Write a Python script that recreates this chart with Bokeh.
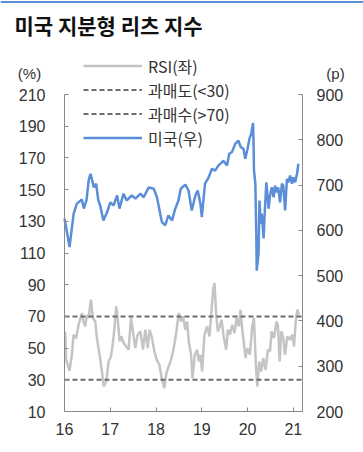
from bokeh.plotting import figure
from bokeh.models import Range1d, LinearAxis, FixedTicker, Legend, LegendItem, Label, Span
from bokeh.embed import file_html
from bokeh.resources import INLINE

# ---- data ----
title_text = "미국 지분형 리츠 지수"
left_unit = "(%)"
right_unit = "(p)"

rsi_dates = [2016.015, 2016.036, 2016.109, 2016.161, 2016.197, 2016.255, 2016.307, 2016.380, 2016.416, 2016.453,
             2016.489, 2016.526, 2016.577, 2016.620, 2016.672, 2016.708, 2016.766, 2016.818, 2016.854, 2016.912,
             2016.964, 2017.015, 2017.058, 2017.095, 2017.131, 2017.161, 2017.204, 2017.241, 2017.292, 2017.350,
             2017.401, 2017.453, 2017.496, 2017.547, 2017.599, 2017.657, 2017.715, 2017.766, 2017.818, 2017.861,
             2017.912, 2017.964, 2018.015, 2018.073, 2018.131, 2018.182, 2018.226, 2018.277, 2018.328, 2018.387,
             2018.445, 2018.496, 2018.547, 2018.591, 2018.642, 2018.679, 2018.715, 2018.766, 2018.796, 2018.847,
             2018.898, 2018.934, 2018.971, 2019.007, 2019.058, 2019.117, 2019.168, 2019.204, 2019.248, 2019.277,
             2019.314, 2019.350, 2019.394, 2019.431, 2019.482, 2019.533, 2019.569, 2019.613, 2019.664, 2019.715,
             2019.759, 2019.810, 2019.847, 2019.883, 2019.920, 2019.956, 2019.993, 2020.051, 2020.102, 2020.139,
             2020.182, 2020.212, 2020.255, 2020.299, 2020.343, 2020.394, 2020.445, 2020.489, 2020.526, 2020.577,
             2020.635, 2020.664, 2020.701, 2020.737, 2020.781, 2020.818, 2020.869, 2020.927, 2020.978, 2021.015,
             2021.051, 2021.088, 2021.124]
rsi_values = [60.5, 42.6, 35.7, 45.8, 58.4, 56.3, 64.7, 72.1, 66.8, 63.7,
              71.0, 69.0, 80.5, 69.0, 66.8, 56.3, 45.8, 35.3, 25.8, 29.0,
              41.6, 44.7, 53.2, 63.7, 76.3, 69.0, 54.2, 57.4, 53.2, 51.0,
              49.0, 69.0, 60.5, 50.0, 58.4, 60.5, 49.0, 61.6, 50.0, 61.6,
              56.3, 47.9, 42.6, 39.5, 30.0, 24.7, 34.2, 38.4, 42.6, 50.0,
              60.5, 72.1, 66.8, 70.0, 61.6, 66.8, 54.2, 45.8, 31.0, 45.8,
              49.0, 41.6, 45.8, 35.3, 58.4, 63.7, 57.4, 71.0, 86.8, 91.0,
              71.0, 60.5, 63.7, 67.9, 56.3, 49.0, 61.6, 58.4, 64.7, 59.5,
              69.0, 63.7, 74.2, 61.6, 53.2, 43.7, 50.0, 45.8, 63.7, 69.0,
              39.5, 25.8, 41.6, 35.3, 43.7, 36.3, 49.0, 47.9, 60.5, 56.3,
              66.8, 63.7, 41.6, 60.5, 56.3, 45.8, 57.4, 55.2, 58.4, 51.0,
              66.8, 74.2, 71.0]

idx_dates = [2016.00, 2016.06, 2016.11, 2016.20, 2016.27, 2016.38, 2016.42, 2016.48, 2016.53, 2016.57,
             2016.64, 2016.69, 2016.74, 2016.78, 2016.85, 2016.93, 2017.00, 2017.07, 2017.15, 2017.20,
             2017.29, 2017.36, 2017.47, 2017.55, 2017.66, 2017.73, 2017.84, 2017.95, 2018.02, 2018.09,
             2018.13, 2018.20, 2018.27, 2018.35, 2018.42, 2018.49, 2018.54, 2018.64, 2018.71, 2018.78,
             2018.86, 2018.91, 2018.97, 2019.00, 2019.07, 2019.15, 2019.22, 2019.29, 2019.36, 2019.44,
             2019.47, 2019.55, 2019.60, 2019.66, 2019.73, 2019.80, 2019.85, 2019.91, 2019.95, 2020.00,
             2020.04, 2020.08, 2020.12, 2020.13, 2020.14, 2020.17, 2020.19, 2020.20, 2020.24, 2020.26,
             2020.29, 2020.31, 2020.35, 2020.37, 2020.41, 2020.46, 2020.49, 2020.53, 2020.57, 2020.60,
             2020.64, 2020.67, 2020.71, 2020.75, 2020.78, 2020.82, 2020.86, 2020.89, 2020.93, 2020.97,
             2021.00, 2021.04, 2021.08, 2021.11]
idx_values = [626, 593, 563, 637, 659, 668, 648, 666, 712, 725,
              695, 703, 666, 655, 622, 640, 662, 655, 677, 648,
              681, 666, 677, 670, 681, 673, 695, 692, 673, 637,
              618, 611, 633, 622, 648, 666, 692, 701, 688, 644,
              677, 688, 659, 629, 703, 717, 736, 732, 743, 750,
              754, 743, 769, 773, 791, 798, 784, 780, 758, 780,
              802, 813, 837, 798, 732, 703, 593, 511, 549, 666,
              615, 637, 582, 629, 706, 648, 677, 695, 673, 699,
              684, 695, 662, 703, 699, 644, 714, 706, 721, 703,
              717, 706, 725, 747]

oversold = [30]
overbought = [70]

x_ticks = [2016, 2017, 2018, 2019, 2020, 2021]
x_tick_labels = ["16", "17", "18", "19", "20", "21"]
left_ticks = [10, 30, 50, 70, 90, 110, 130, 150, 170, 190, 210]
right_ticks = [200, 300, 400, 500, 600, 700, 800, 900]

legend_labels = ["RSI(좌)", "과매도(<30)", "과매수(>70)", "미국(우)"]

# ---- layout (pixels of the 363x452 canvas) ----
W, H = 363, 452
AX_L, AX_R, AX_T, AX_B = 64, 302, 94, 411          # axes box in canvas pixels
X_LO, X_HI = 2016.0, 2021.2                         # x extent of the axes box
YL_LO, YL_HI = left_ticks[0], left_ticks[-1]
YR_LO, YR_HI = right_ticks[0], right_ticks[-1]

def ext(lo, hi, p_lo, p_hi, pix_total):
    # extend a range so that [lo, hi] sits at pixels [p_lo, p_hi] of a frame spanning [0, pix_total]
    k = (hi - lo) / (p_hi - p_lo)
    return lo - p_lo * k, hi + (pix_total - p_hi) * k

x0, x1 = ext(X_LO, X_HI, AX_L, AX_R, W)
yl0, yl1 = ext(YL_LO, YL_HI, H - AX_B, H - AX_T, H)
yr0, yr1 = ext(YR_LO, YR_HI, H - AX_B, H - AX_T, H)

# ---- style ----
BLUE = "#5a8ed8"
RSI_GRAY = "#c4c4c4"
DASH_GRAY = "#6e6e6e"
AXIS_GRAY = "#8a8a8a"
TEXT = "#333333"
NUM_FONT = "Liberation Sans"
KR_FONT = "Noto Sans CJK KR"

p = figure(width=W, height=H, x_range=Range1d(x0, x1), y_range=Range1d(yl0, yl1),
           output_backend="svg", toolbar_location=None,
           min_border_left=0, min_border_right=0, min_border_top=0, min_border_bottom=0,
           x_axis_location=None, y_axis_location=None)
p.title.visible = False
p.extra_y_ranges = {"idx": Range1d(yr0, yr1)}
p.outline_line_color = None
p.grid.visible = False
p.background_fill_color = "white"
p.border_fill_color = "white"

x_axis = LinearAxis(ticker=FixedTicker(ticks=x_ticks), fixed_location=YL_LO, bounds=(X_LO, X_HI),
                    major_label_overrides={t: l for t, l in zip(x_ticks, x_tick_labels)})
left_axis = LinearAxis(ticker=FixedTicker(ticks=left_ticks), fixed_location=X_LO, bounds=(YL_LO, YL_HI))
right_axis = LinearAxis(y_range_name="idx", ticker=FixedTicker(ticks=right_ticks), fixed_location=X_HI,
                        bounds=(YR_LO, YR_HI))
p.add_layout(x_axis, "below")
p.add_layout(left_axis, "left")
p.add_layout(right_axis, "right")

for ax in [x_axis, left_axis, right_axis]:
    ax.axis_line_color = AXIS_GRAY
    ax.axis_line_width = 1
    ax.major_tick_line_color = AXIS_GRAY
    ax.major_tick_in = 4
    ax.major_tick_out = 0
    ax.minor_tick_line_color = None
    ax.major_label_text_font = NUM_FONT
    ax.major_label_text_font_size = "16px"
    ax.major_label_text_color = TEXT
left_axis.major_label_standoff = 19
right_axis.major_label_standoff = 14
x_axis.major_label_standoff = 11

r_rsi = p.line(rsi_dates, rsi_values, line_color=RSI_GRAY, line_width=2.5)
r_os = p.segment(x0=[X_LO], x1=[X_HI], y0=oversold, y1=oversold,
                 line_color=DASH_GRAY, line_width=2, line_dash="5 3")
r_ob = p.segment(x0=[X_LO], x1=[X_HI], y0=overbought, y1=overbought,
                 line_color=DASH_GRAY, line_width=2, line_dash="5 3")
r_idx = p.line(idx_dates, idx_values, y_range_name="idx", line_color=BLUE, line_width=2.5)

legend = Legend(items=[LegendItem(label=legend_labels[0], renderers=[r_rsi]),
                       LegendItem(label=legend_labels[1], renderers=[r_os]),
                       LegendItem(label=legend_labels[2], renderers=[r_ob]),
                       LegendItem(label=legend_labels[3], renderers=[r_idx])],
                location=(83, H - 149.5), glyph_width=59, glyph_height=19, label_height=19,
                spacing=0, padding=0, margin=0, label_standoff=6,
                border_line_color=None, background_fill_alpha=0,
                label_text_font=KR_FONT, label_text_font_size="16px", label_text_color=TEXT)
p.add_layout(legend)

p.add_layout(Span(location=H - 1.5, location_units="screen", dimension="width",
                  line_color=BLUE, line_width=2))
p.add_layout(Label(x=14, y=H - 24, x_units="screen", y_units="screen", text=title_text,
                   text_font=KR_FONT, text_font_size="21px", text_font_style="bold",
                   text_color="#111111", text_baseline="middle", text_align="left"))
p.add_layout(Label(x=29, y=H - 73, x_units="screen", y_units="screen", text=left_unit,
                   text_font=NUM_FONT, text_font_size="15px", text_color=TEXT,
                   text_baseline="middle", text_align="center"))
p.add_layout(Label(x=335, y=H - 73, x_units="screen", y_units="screen", text=right_unit,
                   text_font=NUM_FONT, text_font_size="15px", text_color=TEXT,
                   text_baseline="middle", text_align="center"))

open("out.html", "w").write(file_html(p, INLINE))
